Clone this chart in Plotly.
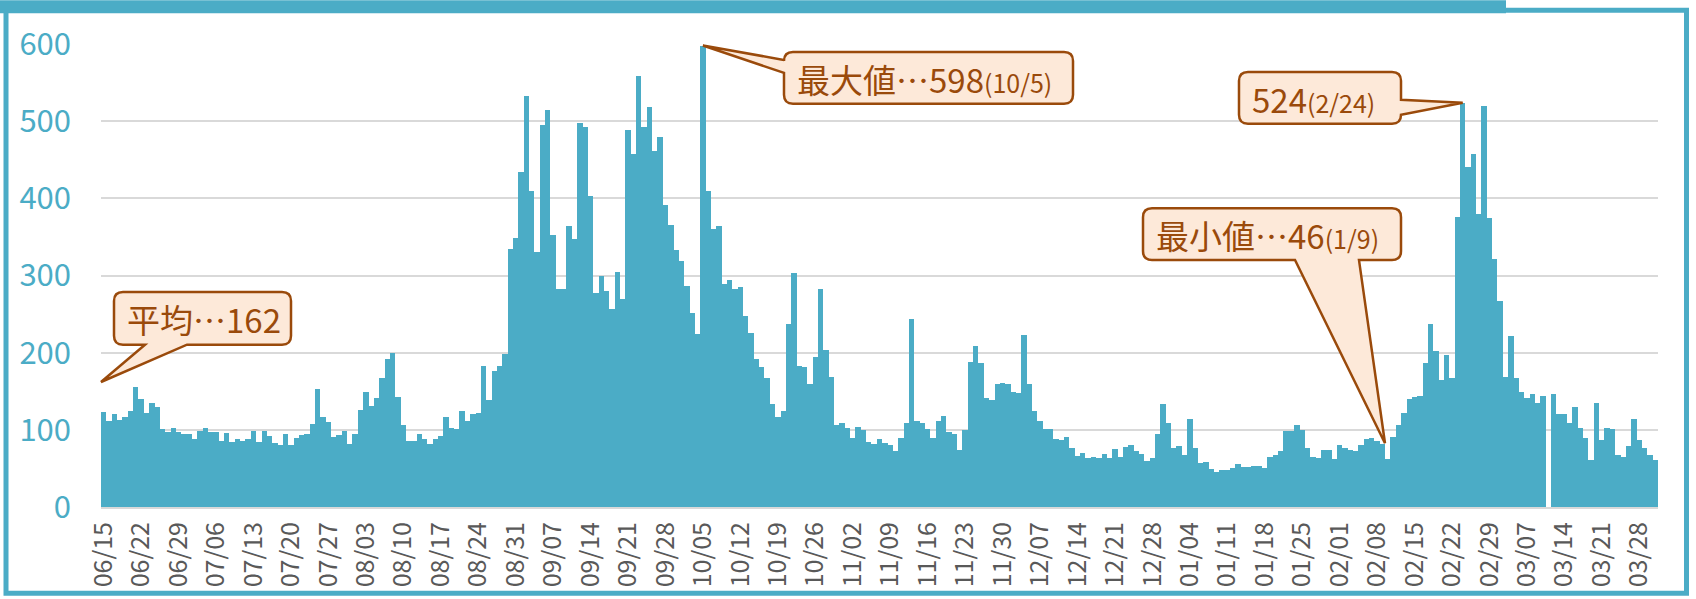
import pandas as pd
import plotly.graph_objects as go

# ---------------- data ----------------
dates = pd.date_range("2023-06-15", "2024-03-31", freq="D")
day_labels = [d.strftime("%m/%d") for d in dates]

counts = [
    123, 111, 120, 113, 117, 125, 155, 140, 122, 135, 129, 101, 97, 102, 97, 95, 95, 88, 98, 102,
    97, 97, 86, 96, 84, 88, 85, 88, 98, 84, 99, 92, 83, 80, 95, 80, 90, 93, 95, 107,
    153, 116, 110, 91, 93, 98, 81, 95, 126, 149, 131, 141, 167, 192, 199, 142, 106, 86, 85, 95,
    88, 81, 88, 92, 116, 103, 101, 125, 111, 120, 122, 183, 139, 176, 183, 198, 334, 348, 434, 532,
    409, 331, 495, 515, 353, 283, 283, 364, 347, 497, 493, 403, 277, 299, 280, 256, 304, 269, 489, 457,
    559, 492, 518, 461, 479, 392, 366, 333, 319, 287, 252, 224, 598, 410, 360, 364, 289, 294, 282, 285,
    248, 225, 192, 182, 167, 134, 117, 125, 237, 303, 183, 181, 160, 194, 282, 204, 169, 106, 109, 103,
    89, 104, 100, 84, 82, 88, 83, 80, 73, 89, 109, 243, 112, 109, 101, 89, 111, 118, 97, 94,
    74, 100, 188, 209, 186, 141, 139, 159, 161, 160, 149, 148, 223, 159, 125, 111, 101, 101, 88, 87,
    91, 76, 66, 70, 64, 65, 64, 69, 64, 75, 65, 78, 80, 73, 69, 60, 63, 94, 134, 109,
    77, 79, 67, 114, 77, 57, 58, 49, 46, 48, 48, 51, 56, 52, 52, 53, 53, 50, 65, 67,
    73, 99, 99, 106, 100, 76, 65, 64, 74, 74, 62, 80, 77, 74, 73, 80, 88, 89, 86, 81,
    62, 91, 106, 122, 140, 143, 144, 187, 237, 202, 164, 197, 167, 376, 524, 440, 458, 380, 520, 374,
    322, 267, 169, 222, 167, 149, 141, 146, 135, 144, None, 147, 120, 120, 109, 130, 102, 90, 61, 135,
    87, 103, 101, 68, 65, 79, 114, 87, 76, 67, 61,
]

y_ticks = [0, 100, 200, 300, 400, 500, 600]
tick_labels = day_labels[::7]

AVERAGE = 162
MAX_LABEL = ("最大値…598", "(10/5)")
PEAK2_LABEL = ("524", "(2/24)")
MIN_LABEL = ("最小値…46", "(1/9)")
AVG_LABEL = "平均…162"

# ---------------- geometry ----------------
W, H = 1696, 599
PL, PR, PT, PB = 101, 1658, 44, 509
YMAX = 600
N = len(counts)
BW = (PR - PL) / N

TEAL = "#4BACC6"
BROWN = "#9A4A0B"
PEACH = "#FDE9D9"
FONT = "Noto Sans CJK JP"


def px(x):
    return (x - PL) / (PR - PL)


def py(y):
    return (PB - y) / (PB - PT)


def data_px(idx, val):
    return PL + (idx + 0.5) * BW, PB - val / YMAX * (PB - PT)


def callout_path(x0, y0, x1, y1, side, a, b, tip, r=9):
    pts = []
    pts.append(("M", (x0 + r, y0)))
    pts.append(("L", (x1 - r, y0)))
    pts.append(("Q", (x1, y0), (x1, y0 + r)))
    if side == "right":
        pts += [("L", (x1, a)), ("L", tip), ("L", (x1, b))]
    pts.append(("L", (x1, y1 - r)))
    pts.append(("Q", (x1, y1), (x1 - r, y1)))
    if side == "bottom":
        pts += [("L", (b, y1)), ("L", tip), ("L", (a, y1))]
    pts.append(("L", (x0 + r, y1)))
    pts.append(("Q", (x0, y1), (x0, y1 - r)))
    if side == "left":
        pts += [("L", (x0, b)), ("L", tip), ("L", (x0, a))]
    pts.append(("L", (x0, y0 + r)))
    pts.append(("Q", (x0, y0), (x0 + r, y0)))
    s = ""
    for p in pts:
        cmd = p[0]
        coords = " ".join(f"{px(x):.5f},{py(y):.5f}" for (x, y) in p[1:])
        s += f"{cmd}{coords} "
    return s + "Z"


# ---------------- figure ----------------
fig = go.Figure()
fig.add_trace(go.Bar(
    x=day_labels, y=counts,
    marker=dict(color=TEAL, line=dict(width=0)),
    hoverinfo="x+y",
))

shapes = []
# outer frame and header band
shapes.append(dict(type="rect", xref="paper", yref="paper",
                   x0=px(6), x1=px(1686.5), y0=py(10), y1=py(595.5),
                   line=dict(color=TEAL, width=5), fillcolor="rgba(0,0,0,0)", layer="above"))
shapes.append(dict(type="rect", xref="paper", yref="paper",
                   x0=px(0), x1=px(1506), y0=py(0), y1=py(13),
                   line=dict(width=0), fillcolor=TEAL, layer="above"))

imax = max(range(N), key=lambda i: counts[i] if counts[i] is not None else -1)
i_peak2 = day_labels.index("02/24")

callouts = [
    ((114, 293, 291, 346), "bottom", 145, 187, (PL, PB - AVERAGE / YMAX * (PB - PT)), AVG_LABEL, None),
    ((784, 52, 1073, 104), "left", 60, 73, data_px(imax, counts[imax]), MAX_LABEL[0], MAX_LABEL[1]),
    ((1239, 72, 1401, 124), "right", 100, 115, data_px(i_peak2, counts[i_peak2]), PEAK2_LABEL[0], PEAK2_LABEL[1]),
    ((1143, 209, 1401, 261), "bottom", 1295, 1359, (1385, 445), MIN_LABEL[0], MIN_LABEL[1]),
]

annotations = []
for (x0, y0, x1, y1), side, a, b, tip, text, sub in callouts:
    shapes.append(dict(type="path", xref="paper", yref="paper",
                       path=callout_path(x0, y0, x1, y1, side, a, b, tip),
                       line=dict(color=BROWN, width=2.5), fillcolor=PEACH, layer="above"))
    label = text if sub is None else f"{text}<span style='font-size:25px'>{sub}</span>"
    annotations.append(dict(xref="paper", yref="paper", x=px(x0 + 11), y=py((y0 + y1) / 2 + 1),
                            xanchor="left", yanchor="middle", showarrow=False, text=label,
                            font=dict(family=FONT, size=33, color=BROWN)))

fig.update_layout(
    width=W, height=H, autosize=False,
    margin=dict(l=PL, r=W - PR, t=PT, b=H - PB, pad=0),
    paper_bgcolor="white", plot_bgcolor="white",
    bargap=0, showlegend=False,
    shapes=shapes, annotations=annotations,
    font=dict(family=FONT),
)
fig.update_xaxes(
    type="category", range=[-0.5, N - 0.5],
    tickmode="array", tickvals=tick_labels, ticktext=tick_labels,
    tickangle=-90, tickfont=dict(family=FONT, size=25, color="#595959"),
    showgrid=False, showline=True, linecolor="#D9D9D9", linewidth=2,
    ticks="", ticklabelstandoff=3,
)
fig.update_yaxes(
    range=[0, YMAX], tickmode="array", tickvals=y_ticks,
    tickfont=dict(family=FONT, size=31, color=TEAL),
    showgrid=True, gridcolor="#D9D9D9", gridwidth=1.5,
    zeroline=False, showline=False, ticks="", ticklabelstandoff=29,
)

fig.write_html(
    "out.html",
    config={"displayModeBar": False},
    post_script="document.body.style.margin='0';document.body.style.overflow='hidden';",
)
